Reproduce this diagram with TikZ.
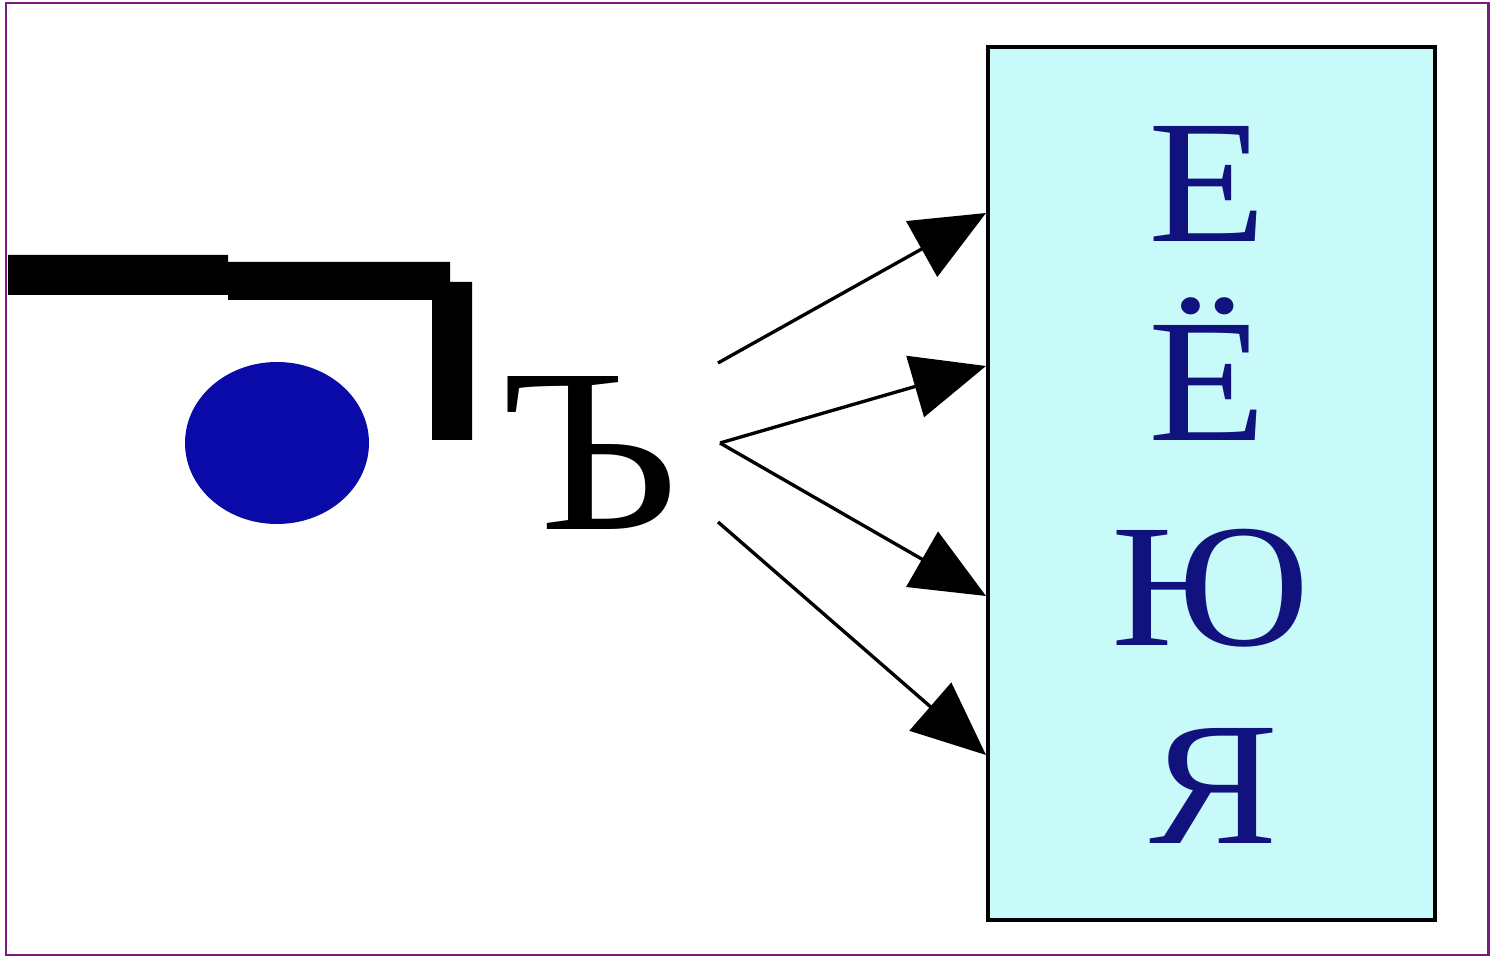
\documentclass[tikz,border=0pt]{standalone}
\usepackage{fontspec}
\setmainfont{Liberation Serif}
\usetikzlibrary{arrows.meta}
\definecolor{framecol}{HTML}{7A1A7E}
\definecolor{dotblue}{HTML}{0A0AA8}
\definecolor{boxfill}{HTML}{C8FAFA}
\definecolor{letterblue}{HTML}{12127E}
\tikzset{
  letter/.style={anchor=base, inner sep=0pt, text=letterblue, font=\fontsize{100pt}{100pt}\selectfont},
  arr/.style={line width=1.9pt, -{Triangle[length=42pt, width=36pt]}},
  boxstyle/.style={draw=black, fill=boxfill, line width=2.3pt, inner sep=0pt, minimum width=8.94cm, minimum height=17.46cm}
}
\begin{document}
\begin{tikzpicture}[x=0.02cm,y=-0.02cm]
\useasboundingbox (0,0) rectangle (1492,959);
\fill[white] (0,0) rectangle (1492,959);
\draw[framecol, line width=1.7pt] (6,3) rectangle (1488,955);
% bracket
\fill[black] (8,255) -- (228,255) -- (228,262) -- (450,262) -- (450,282) -- (472,282) -- (472,440) -- (432,440) -- (432,300) -- (228,300) -- (228,295) -- (8,295) -- cycle;
% dot
\fill[dotblue] (277,443) ellipse [x radius=92, y radius=81];
% hard sign
\node[anchor=base, inner sep=0pt, font=\fontsize{133pt}{133pt}\selectfont] (hard) at (590,530) {\scalebox{1.08}[1]{Ъ}};
% box
\node[boxstyle] (box) at (1211.5,483.5) {};
\node[letter] (e) at (1208,242) {\scalebox{1.1}[1]{Е}};
\node[letter] (yo) at (1208,441) {\scalebox{1.1}[1]{Ё}};
\node[letter] (yu) at (1211,645) {\scalebox{1.1}[1]{Ю}};
\node[letter] (ya) at (1214,843) {\scalebox{1.1}[1]{Я}};
% arrows
\coordinate (s1) at (718,363);
\coordinate (s2) at (720,443);
\coordinate (s4) at (718,522);
\coordinate (t1) at (986,213);
\coordinate (t2) at (986,366);
\coordinate (t3) at (986,596);
\coordinate (t4) at (986,755);
\draw[arr] (s1) -- (t1);
\draw[arr] (s2) -- (t2);
\draw[arr] (s2) -- (t3);
\draw[arr] (s4) -- (t4);
\end{tikzpicture}
\end{document}
